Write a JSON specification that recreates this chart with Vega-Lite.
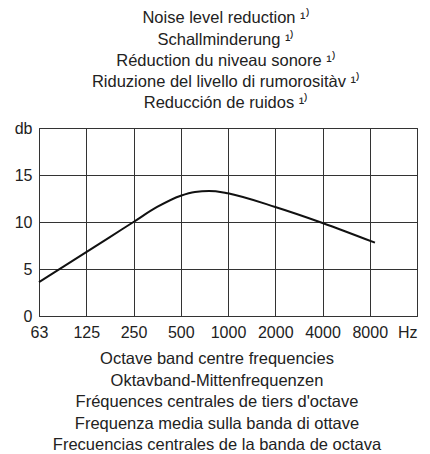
{
  "$schema": "https://vega.github.io/schema/vega-lite/v6.json",
  "width": 378,
  "height": 188,
  "autosize": {"type": "none"},
  "padding": {"left": 39, "top": 128, "right": 13, "bottom": 138},
  "background": "white",
  "title": {
    "text": ["Noise level reduction ¹⁾", "Schallminderung ¹⁾", "Réduction du niveau sonore ¹⁾", "Riduzione del livello di rumorositàv ¹⁾", "Reducción de ruidos ¹⁾"],
    "font": "Liberation Sans",
    "fontSize": 16.5,
    "fontWeight": "normal",
    "color": "#222222",
    "lineHeight": 21.3,
    "anchor": "middle",
    "offset": 8,
    "dx": -2
  },
  "data": {
    "values": [
      {"octave": 0, "db": 3.6},
      {"octave": 0.5, "db": 5.2},
      {"octave": 1, "db": 6.8},
      {"octave": 1.5, "db": 8.4},
      {"octave": 2, "db": 10.0},
      {"octave": 2.5, "db": 11.6},
      {"octave": 3, "db": 12.8},
      {"octave": 3.3, "db": 13.2},
      {"octave": 3.6, "db": 13.3},
      {"octave": 3.9, "db": 13.15},
      {"octave": 4, "db": 13.05},
      {"octave": 5, "db": 11.6},
      {"octave": 6, "db": 9.9},
      {"octave": 7.11, "db": 7.8}
    ]
  },
  "mark": {"type": "line", "color": "#111111", "strokeWidth": 2, "interpolate": "monotone"},
  "encoding": {
    "x": {
      "field": "octave",
      "type": "quantitative",
      "scale": {"domain": [0, 8], "nice": false, "zero": false},
      "axis": {
        "values": [0, 1, 2, 3, 4, 5, 6, 7, 8],
        "labelExpr": "['63','125','250','500','1000','2000','4000','8000','Hz'][datum.value]",
        "labelAlign": {"condition": {"test": "datum.value == 8", "value": "right"}, "value": "center"},
        "labelFont": "Liberation Sans",
        "labelFontSize": 16,
        "labelColor": "#222222",
        "labelPadding": 8,
        "labelOverlap": false,
        "labelFlush": false,
        "ticks": false,
        "domain": false,
        "grid": true,
        "gridColor": "#333333",
        "gridWidth": 1,
        "gridOpacity": 1,
        "title": ["Octave band centre frequencies", "Oktavband-Mittenfrequenzen", "Fréquences centrales de tiers d'octave", "Frequenza media sulla banda di ottave", "Frecuencias centrales de la banda de octava"],
        "titleFont": "Liberation Sans",
        "titleFontSize": 16.5,
        "titleFontWeight": "normal",
        "titleColor": "#222222",
        "titleLineHeight": 21.6,
        "titleX": 177.5,
        "titleY": 34.5,
        "titleAlign": "center",
        "titleBaseline": "top",
        "titleAnchor": null
      }
    },
    "y": {
      "field": "db",
      "type": "quantitative",
      "scale": {"domain": [0, 20], "nice": false},
      "axis": {
        "values": [0, 5, 10, 15, 20],
        "labelExpr": "datum.value == 20 ? 'db' : datum.label",
        "labelFont": "Liberation Sans",
        "labelFontSize": 16,
        "labelColor": "#222222",
        "labelPadding": 7,
        "labelOverlap": false,
        "labelFlush": false,
        "ticks": false,
        "domain": false,
        "grid": true,
        "gridColor": "#333333",
        "gridWidth": 1,
        "gridOpacity": 1,
        "title": null
      }
    }
  },
  "config": {
    "view": {"stroke": "#222222", "strokeWidth": 1}
  }
}
